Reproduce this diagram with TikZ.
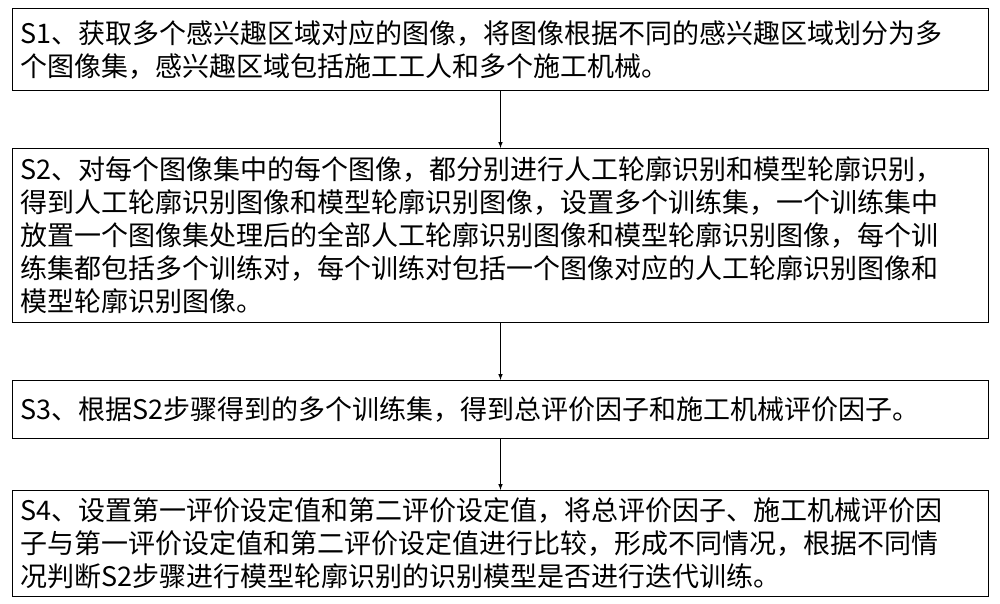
\documentclass[tikz,border=0pt]{standalone}
\usepackage{fontspec}
\setmainfont{Noto Sans CJK SC}
\begin{document}
\begin{tikzpicture}[x=1pt,y=-1pt,
 box/.style={draw,line width=1pt,minimum width=976pt,text width=960pt,align=left,inner sep=0pt,anchor=north west,font=\fontsize{27}{33}\selectfont},
 arr/.style={-latex,line width=1pt}]
\useasboundingbox (0,0) rectangle (1000,604);
\node[box,minimum height=82pt] (s1) at (12,8) {S1、获取多个感兴趣区域对应的图像，将图像根据不同的感兴趣区域划分为多\\个图像集，感兴趣区域包括施工工人和多个施工机械。};
\node[box,minimum height=174pt] (s2) at (12,148) {S2、对每个图像集中的每个图像，都分别进行人工轮廓识别和模型轮廓识别，\\得到人工轮廓识别图像和模型轮廓识别图像，设置多个训练集，一个训练集中\\放置一个图像集处理后的全部人工轮廓识别图像和模型轮廓识别图像，每个训\\练集都包括多个训练对，每个训练对包括一个图像对应的人工轮廓识别图像和\\模型轮廓识别图像。};
\node[box,minimum height=58pt] (s3) at (12,380) {S3、根据S2步骤得到的多个训练集，得到总评价因子和施工机械评价因子。};
\node[box,minimum height=106pt] (s4) at (12,490) {S4、设置第一评价设定值和第二评价设定值，将总评价因子、施工机械评价因\\子与第一评价设定值和第二评价设定值进行比较，形成不同情况，根据不同情\\况判断S2步骤进行模型轮廓识别的识别模型是否进行迭代训练。};
\draw[arr] (s1.south) -- (s2.north);
\draw[arr] (s2.south) -- (s3.north);
\draw[arr] (s3.south) -- (s4.north);
\end{tikzpicture}
\end{document}
